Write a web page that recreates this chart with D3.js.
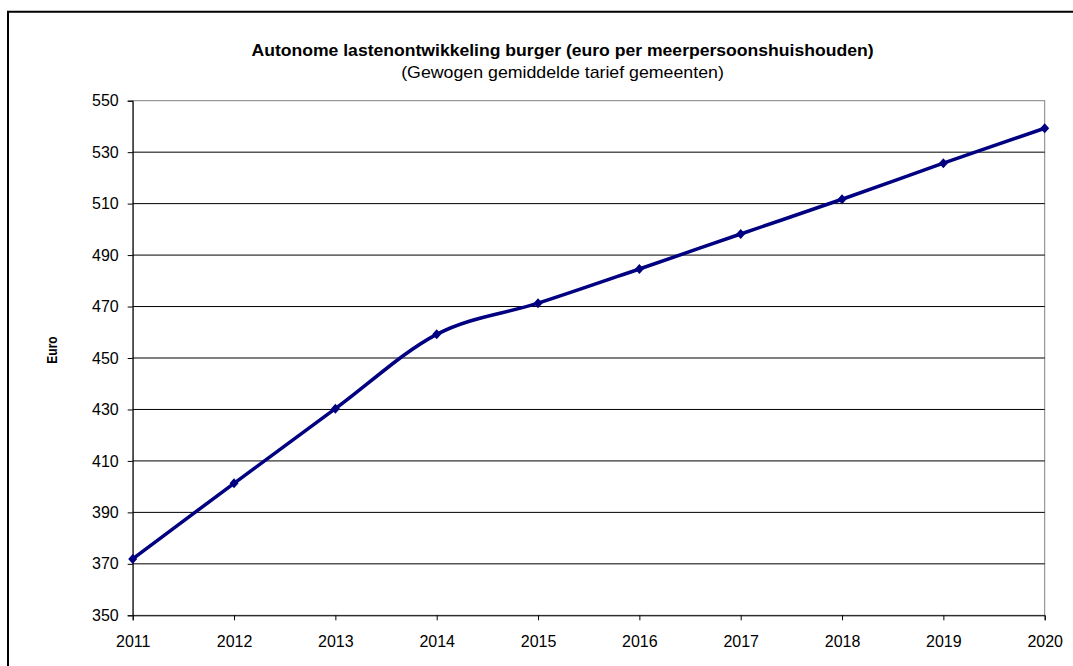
<!DOCTYPE html>
<html>
<head>
<meta charset="utf-8">
<script src="https://cdn.jsdelivr.net/npm/d3@7"></script>
<style>
  html, body { margin: 0; padding: 0; background: #fff; }
  svg { display: block; font-family: "Liberation Sans", Arial, Helvetica, sans-serif; }
</style>
</head>
<body>
<svg id="chart" width="1073" height="666"></svg>
<script>
// Yearly charges per multi-person household (euro)
const years = ["2011", "2012", "2013", "2014", "2015", "2016", "2017", "2018", "2019", "2020"];
const values = [371.9, 401.3, 430.3, 459.2, 471.3, 484.6, 498.2, 511.7, 525.7, 539.3];
const yTicks = [350, 370, 390, 410, 430, 450, 470, 490, 510, 530, 550];

const titleText = "Autonome lastenontwikkeling burger (euro per meerpersoonshuishouden)";
const subtitleText = "(Gewogen gemiddelde tarief gemeenten)";
const yLabel = "Euro";

const svg = d3.select("#chart");
const W = 1073, H = 666;
const plot = { left: 132.7, right: 1044.7, top: 100.7, bottom: 615.3 };

// outer chart frame (only top and left edges fall inside the view)
svg.append("path")
  .attr("d", `M8,${H} L8,11.7 L${W},11.7`)
  .attr("fill", "none")
  .attr("stroke", "#000")
  .attr("stroke-width", 2);

const x = d3.scalePoint().domain(years).range([plot.left, plot.right]);
const y = d3.scaleLinear().domain([350, 550]).range([plot.bottom, plot.top]);

// plot area border
svg.append("rect")
  .attr("x", plot.left).attr("y", plot.top)
  .attr("width", plot.right - plot.left).attr("height", plot.bottom - plot.top)
  .attr("fill", "none").attr("stroke", "#808080").attr("stroke-width", 1);

// horizontal gridlines
svg.append("g").selectAll("line")
  .data(yTicks.filter(v => v > 350 && v < 550))
  .join("line")
  .attr("x1", plot.left).attr("x2", plot.right)
  .attr("y1", d => y(d)).attr("y2", d => y(d))
  .attr("stroke", "#000").attr("stroke-width", 1);

// y axis
const yAxis = svg.append("g")
  .attr("transform", `translate(${plot.left},0)`)
  .call(d3.axisLeft(y).tickValues(yTicks).tickSize(5).tickPadding(9).tickFormat(d3.format("d")));
yAxis.select(".domain").attr("stroke", "#000");
yAxis.selectAll(".tick line").attr("stroke", "#000");
yAxis.selectAll("text").attr("font-size", 16).attr("fill", "#000")
  .attr("font-family", "'Liberation Sans', Arial, sans-serif");

// x axis
const xAxis = svg.append("g")
  .attr("transform", `translate(0,${plot.bottom})`)
  .call(d3.axisBottom(x).tickSize(5).tickPadding(15));
xAxis.select(".domain").attr("stroke", "#000");
xAxis.selectAll(".tick line").attr("stroke", "#000");
xAxis.selectAll("text").attr("font-size", 16).attr("fill", "#000")
  .attr("font-family", "'Liberation Sans', Arial, sans-serif");

// smoothed series line
const line = d3.line()
  .x((d, i) => x(years[i]))
  .y(d => y(d))
  .curve(d3.curveCatmullRom.alpha(0));

svg.append("path")
  .datum(values)
  .attr("d", line)
  .attr("fill", "none")
  .attr("stroke", "#000080")
  .attr("stroke-width", 3.5)
  .attr("stroke-linejoin", "round");

// diamond markers
const diamond = {
  draw(ctx) {
    ctx.moveTo(0, -5); ctx.lineTo(4.5, 0); ctx.lineTo(0, 5); ctx.lineTo(-4.5, 0); ctx.closePath();
  }
};
svg.append("g").selectAll("path")
  .data(values)
  .join("path")
  .attr("transform", (d, i) => `translate(${x(years[i])},${y(d)})`)
  .attr("d", d3.symbol(diamond))
  .attr("fill", "#000080");

// titles (slightly widened lettering)
svg.append("text")
  .attr("transform", "translate(562.5,56) scale(1.1,1)")
  .attr("text-anchor", "middle")
  .attr("font-size", 16).attr("font-weight", "bold")
  .text(titleText);

svg.append("text")
  .attr("transform", "translate(562.5,77.5) scale(1.11,1)")
  .attr("text-anchor", "middle")
  .attr("font-size", 16)
  .text(subtitleText);

// y axis title
svg.append("text")
  .attr("transform", "translate(56.7,350) rotate(-90) scale(1,1.2)")
  .attr("text-anchor", "middle")
  .attr("font-size", 12).attr("font-weight", "bold")
  .text(yLabel);
</script>
</body>
</html>
